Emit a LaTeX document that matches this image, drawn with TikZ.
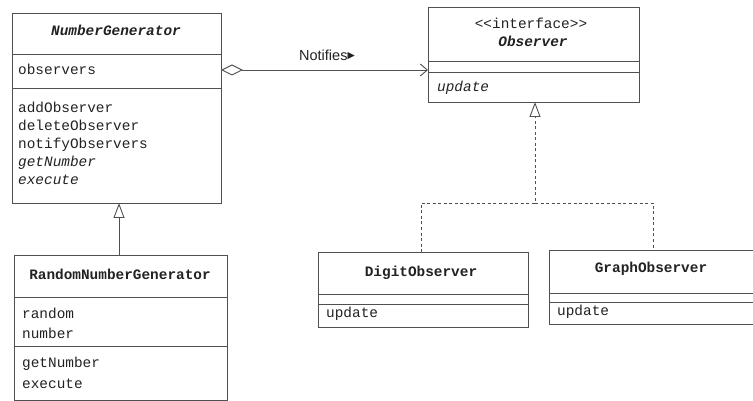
\documentclass[tikz,border=0pt]{standalone}
\usepackage{fontspec}
\setmainfont{Liberation Serif}
\setmonofont{Liberation Mono}
\newfontfamily\labelfont{Liberation Sans}
\newfontfamily\symfont{DejaVu Sans}
\usetikzlibrary{arrows.meta}
\definecolor{ink}{HTML}{222222}
\definecolor{rule}{HTML}{505050}
\begin{document}
\begin{tikzpicture}[x=1pt,y=-1pt,
  classbox/.style={draw=rule, line width=0.9pt, anchor=north west, inner sep=0pt, outer sep=0pt},
  member/.style={anchor=mid west, inner sep=0pt, text=ink, font=\fontsize{14.4}{17}\selectfont\ttfamily},
  title/.style={anchor=mid, inner sep=0pt, text=ink, font=\fontsize{14.4}{17}\selectfont\ttfamily\bfseries},
  divider/.style={draw=rule, line width=0.8pt},
  inherit/.style={draw=rule, line width=0.9pt, -{Triangle[open, length=15pt, width=11pt]}},
  realize/.style={inherit, dash pattern=on 3pt off 2.5pt},
  aggregate/.style={draw=rule, line width=0.9pt,
    {Diamond[open, length=22pt, width=11pt]}-{Straight Barb[length=7pt, width=12pt]}}]
\useasboundingbox (0,0) rectangle (753,401);
\clip (0,0) rectangle (753,401);

% NumberGenerator
\node[classbox, minimum width=209pt, minimum height=190pt] (ng) at (12,13) {};
\draw[divider] (12,54) -- (221,54);
\draw[divider] (12,88) -- (221,88);
\node[title, font=\fontsize{14.4}{17}\selectfont\ttfamily\bfseries\itshape] (ngT) at (116,33.5) {NumberGenerator};
\node[member] (ng1) at (18,72) {observers};
\node[member] (ng2) at (18,110) {addObserver};
\node[member] (ng3) at (18,128) {deleteObserver};
\node[member] (ng4) at (18,146) {notifyObservers};
\node[member, font=\fontsize{14.4}{17}\selectfont\ttfamily\itshape] (ng5) at (18,164) {getNumber};
\node[member, font=\fontsize{14.4}{17}\selectfont\ttfamily\itshape] (ng6) at (18,182) {execute};

% RandomNumberGenerator
\node[classbox, minimum width=213pt, minimum height=145pt] (rng) at (14,255) {};
\draw[divider] (14,297) -- (227,297);
\draw[divider] (14,346) -- (227,346);
\node[title] (rngT) at (120,277) {RandomNumberGenerator};
\node[member] (rng1) at (22,316) {random};
\node[member] (rng2) at (22,336) {number};
\node[member] (rng3) at (22,365) {getNumber};
\node[member] (rng4) at (22,386) {execute};

% Observer interface
\node[classbox, minimum width=211pt, minimum height=95pt] (obs) at (428,7) {};
\draw[divider] (428,61) -- (639,61);
\draw[divider] (428,72) -- (639,72);
\node[anchor=mid, inner sep=0pt, text=ink, font=\fontsize{14.4}{17}\selectfont\ttfamily] (obsS) at (531,26) {<{}<interface>{}>};
\node[title, font=\fontsize{14.4}{17}\selectfont\ttfamily\bfseries\itshape] (obsT) at (533,44) {Observer};
\node[member, font=\fontsize{14.4}{17}\selectfont\ttfamily\itshape] (obs1) at (437,89) {update};

% DigitObserver
\node[classbox, minimum width=210pt, minimum height=75pt] (dig) at (318,252) {};
\draw[divider] (318,294) -- (528,294);
\draw[divider] (318,304) -- (528,304);
\node[title] (digT) at (421,274) {DigitObserver};
\node[member] (dig1) at (326,315) {update};

% GraphObserver
\node[classbox, minimum width=215pt, minimum height=74pt] (gra) at (549,250) {};
\draw[divider] (549,293) -- (764,293);
\draw[divider] (549,302) -- (764,302);
\node[title] (graT) at (651,270) {GraphObserver};
\node[member] (gra1) at (557,313) {update};

% NumberGenerator -> Observer aggregation
\coordinate (aggS) at (ng.east |- 0,70);
\coordinate (aggE) at (obs.west |- 0,70);
\draw[aggregate] (aggS) -- (aggE);
\node[anchor=mid, inner sep=0pt, text=ink, font=\fontsize{14.5}{17}\labelfont] (notif) at (327,58) {Notifies\raisebox{2pt}{\symfont\fontsize{9.5}{10}\selectfont ▶}};

% generalization
\coordinate (rngUp) at (119,255);
\draw[inherit] (rngUp) -- (rngUp |- ng.south);

% realization
\coordinate (junc) at (535,203);
\draw[realize] (dig.north -| 421,0) |- (junc) -- (junc |- obs.south);
\draw[divider, dash pattern=on 3pt off 2.5pt] (junc) -| (653,250);
\end{tikzpicture}
\end{document}
